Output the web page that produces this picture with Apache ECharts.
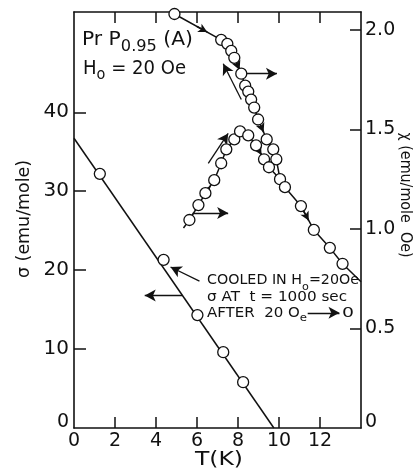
<!DOCTYPE html>
<html><head><meta charset="utf-8">
<script src="https://cdn.jsdelivr.net/npm/echarts@6/dist/echarts.min.js"></script>
<style>html,body{margin:0;padding:0;background:#fff}#c{width:414px;height:470px}</style>
</head><body><div id="c"></div>
<script>
// ---- data ----
const xTickValues = [2, 4, 6, 8, 10, 12];
const xLabelValues = [0, 2, 4, 6, 8, 10, 12];
const sigmaTickValues = [10, 20, 30, 40];
const sigmaLabelValues = [0, 10, 20, 30, 40];
const chiTickValues = [0.5, 1.0, 1.5, 2.0];
const chiLabelValues = [0, 0.5, 1.0, 1.5, 2.0];

// sigma (left axis)
const sigmaT = [1.26, 4.37, 6.02, 7.28, 8.25];
const sigma = [32.2, 21.3, 14.3, 9.6, 5.8];
const sigmaFitT = [0, 9.75];
const sigmaFit = [36.7, 0];

// chi (right axis) - upper (decreasing) branch
const chiDecT = [4.9, 7.18, 7.48, 7.67, 7.82, 8.16, 8.35, 8.5, 8.64, 8.79, 8.98, 9.4, 9.72, 9.87];
const chiDec = [2.08, 1.95, 1.93, 1.895, 1.86, 1.78, 1.72, 1.69, 1.65, 1.61, 1.55, 1.45, 1.40, 1.35];
// lower (rising) branch
const chiRiseT = [5.63, 6.07, 6.41, 6.84, 7.18, 7.43, 7.82, 8.1, 8.5, 8.88, 9.27, 9.51];
const chiRise = [1.045, 1.12, 1.18, 1.245, 1.33, 1.40, 1.45, 1.49, 1.47, 1.42, 1.35, 1.31];
const chiRiseStart = [5.34, 1.005];
// common tail
const chiTailT = [10.05, 10.29, 11.07, 11.7, 12.48, 13.1];
const chiTail = [1.25, 1.21, 1.115, 0.995, 0.905, 0.825];
const chiTailEnd = [14, 0.735];

// ---- build ----
const zip = (a, b) => a.map((v, i) => [v, b[i]]);
const decLine = zip(chiDecT, chiDec).concat(zip(chiTailT, chiTail), [chiTailEnd]);
const riseLine = [chiRiseStart].concat(zip(chiRiseT, chiRise), [[chiTailT[0], chiTail[0]]]);
const chiCircles = zip(chiDecT, chiDec).concat(zip(chiRiseT, chiRise), zip(chiTailT, chiTail));

const FF = '"DejaVu Sans"';
const black = '#111';
const arrowStyle = {color: black, width: 1.3, type: 'solid'};
const circleStyle = {color: '#fff', borderColor: black, borderWidth: 1.3, opacity: 1};

function arrow(p1, p2, curv) {
  return [{coord: p1, lineStyle: curv ? {curveness: curv} : undefined}, {coord: p2}];
}

// text layout helper: pieces [text, fontSize, dy]; fitted horizontally between x0 and x1
const mctx = document.createElement('canvas').getContext('2d');
function textLine(x0, x1, yc, pieces, rot) {
  let cum = 0;
  const children = pieces.map(p => {
    mctx.font = p[1] + 'px ' + FF;
    const w = mctx.measureText(p[0]).width;
    const el = {type: 'text', x: cum, y: p[2] || 0,
      style: {text: p[0], font: p[1] + 'px ' + FF, fill: black, textAlign: 'left', textVerticalAlign: 'middle'}};
    cum += w;
    return el;
  });
  const sx = (x1 - x0) / cum;
  if (rot) {
    return {type: 'group', x: rot.cx, y: rot.cy, rotation: rot.angle,
      children: [{type: 'group', x: -(x1 - x0) / 2, y: 0, scaleX: sx, children}]};
  }
  return {type: 'group', x: x0, y: yc, scaleX: sx, children};
}

const chart = echarts.init(document.getElementById('c'), null, {renderer: 'canvas'});
const axisCommon = {
  axisLine: {show: true, onZero: false, lineStyle: {color: black, width: 1.6}},
  splitLine: {show: false}
};
const zeroRich = {z: {fontSize: 19, fontFamily: FF, color: black, padding: [0, 0, 12, 0]}};
chart.setOption({
  animation: false,
  backgroundColor: '#fff',
  grid: {left: 74, right: 53, top: 12, bottom: 42},
  xAxis: [
    Object.assign({}, axisCommon, {
      type: 'value', position: 'bottom', min: 0, max: 14,
      axisTick: {show: true, inside: true, length: 11, lineStyle: {color: black, width: 1.5}, customValues: xTickValues},
      axisLabel: {show: true, color: black, fontSize: 19, fontFamily: FF, margin: 4, customValues: xLabelValues}
    }),
    Object.assign({}, axisCommon, {
      type: 'value', position: 'top', min: 0, max: 14,
      axisTick: {show: true, inside: true, length: 11, lineStyle: {color: black, width: 1.5}, customValues: xTickValues},
      axisLabel: {show: false}
    })
  ],
  yAxis: [
    Object.assign({}, axisCommon, {
      type: 'value', position: 'left', min: 0, max: 52.7,
      axisTick: {show: true, inside: true, length: 12, lineStyle: {color: black, width: 1.5}, customValues: sigmaTickValues},
      axisLabel: {show: true, color: black, fontSize: 20, fontFamily: FF, margin: 5, customValues: sigmaLabelValues,
        formatter: v => v === 0 ? '{z|0}' : String(v), rich: zeroRich}
    }),
    Object.assign({}, axisCommon, {
      type: 'value', position: 'right', min: 0, max: 2.09,
      axisTick: {show: true, inside: true, length: 11, lineStyle: {color: black, width: 1.5}, customValues: chiTickValues},
      axisLabel: {show: true, color: black, fontSize: 19, fontFamily: FF, margin: 4, customValues: chiLabelValues,
        formatter: v => v === 0 ? '{z|0}' : v.toFixed(1), rich: zeroRich}
    })
  ],
  series: [
    {
      type: 'line', xAxisIndex: 0, yAxisIndex: 0, data: zip(sigmaFitT, sigmaFit),
      showSymbol: false, lineStyle: {color: black, width: 1.5}, silent: true,
      markLine: {
        silent: true, symbol: ['none', 'arrow'], symbolSize: [9, 11], label: {show: false},
        lineStyle: arrowStyle, animation: false,
        data: [
          arrow([5.29, 16.8], [3.45, 16.8]),
          arrow([6.12, 18.6], [4.71, 20.4]),
          arrow([11.4, 14.6], [12.95, 14.6])
        ]
      }
    },
    {
      type: 'scatter', xAxisIndex: 0, yAxisIndex: 0, data: zip(sigmaT, sigma),
      symbol: 'circle', symbolSize: 11, itemStyle: circleStyle, silent: true, z: 5
    },
    {
      type: 'line', xAxisIndex: 0, yAxisIndex: 1, data: decLine,
      showSymbol: false, lineStyle: {color: black, width: 1.5}, silent: true,
      markLine: {
        silent: true, symbol: ['none', 'arrow'], symbolSize: [9, 11], label: {show: false},
        lineStyle: arrowStyle, animation: false,
        data: [
          arrow([8.16, 1.78], [9.9, 1.78]),
          arrow([5.78, 1.08], [7.52, 1.08]),
          arrow([8.16, 1.65], [7.28, 1.83], -0.2),
          arrow([6.55, 1.33], [7.52, 1.48], 0.1)
        ]
      }
    },
    {
      type: 'line', xAxisIndex: 0, yAxisIndex: 1, data: riseLine,
      showSymbol: false, lineStyle: {color: black, width: 1.5}, silent: true,
      markLine: {
        silent: true, symbol: ['none', 'arrow'], symbolSize: [7, 9], label: {show: false},
        lineStyle: {color: black, width: 1.5, type: 'solid'}, animation: false,
        data: [
          arrow([6.0, 2.017], [6.5, 1.989]),
          arrow([7.9, 1.841], [8.08, 1.799]),
          arrow([9.05, 1.533], [9.25, 1.486]),
          arrow([8.95, 1.407], [9.15, 1.372]),
          arrow([11.2, 1.09], [11.45, 1.042]),
          arrow([6.45, 1.186], [6.65, 1.216])
        ]
      }
    },
    {
      type: 'scatter', xAxisIndex: 0, yAxisIndex: 1, data: chiCircles,
      symbol: 'circle', symbolSize: 11, itemStyle: circleStyle, silent: true, z: 5
    }
  ],
  graphic: [
    textLine(82, 193, 40, [['Pr P', 20, 0], ['0.95', 16, 7], [' (A)', 20, 0]]),
    textLine(83, 186, 69, [['H', 20, 0], ['o', 16, 6], [' = 20 Oe', 20, 0]]),
    textLine(207, 359, 280, [['COOLED IN H', 14, 0], ['o', 11, 7], ['=20Oe', 14, 0]]),
    textLine(207, 347, 297, [['σ AT  t = 1000 sec', 14, 0]]),
    textLine(207, 307, 313, [['AFTER  20 O', 14, 0], ['e', 11, 5]]),
    textLine(342, 354, 313, [['0', 14, 0]]),
    textLine(195, 243, 460, [['T(K)', 19, 0]]),
    textLine(160, 278, 0, [['σ (emu/mole)', 17, 0]], {cx: 25, cy: 219, angle: Math.PI / 2}),
    textLine(132, 257, 0, [['χ (emu/mole  Oe)', 16, 0]], {cx: 405, cy: 195, angle: -Math.PI / 2})
  ]
});
</script>
</body></html>
